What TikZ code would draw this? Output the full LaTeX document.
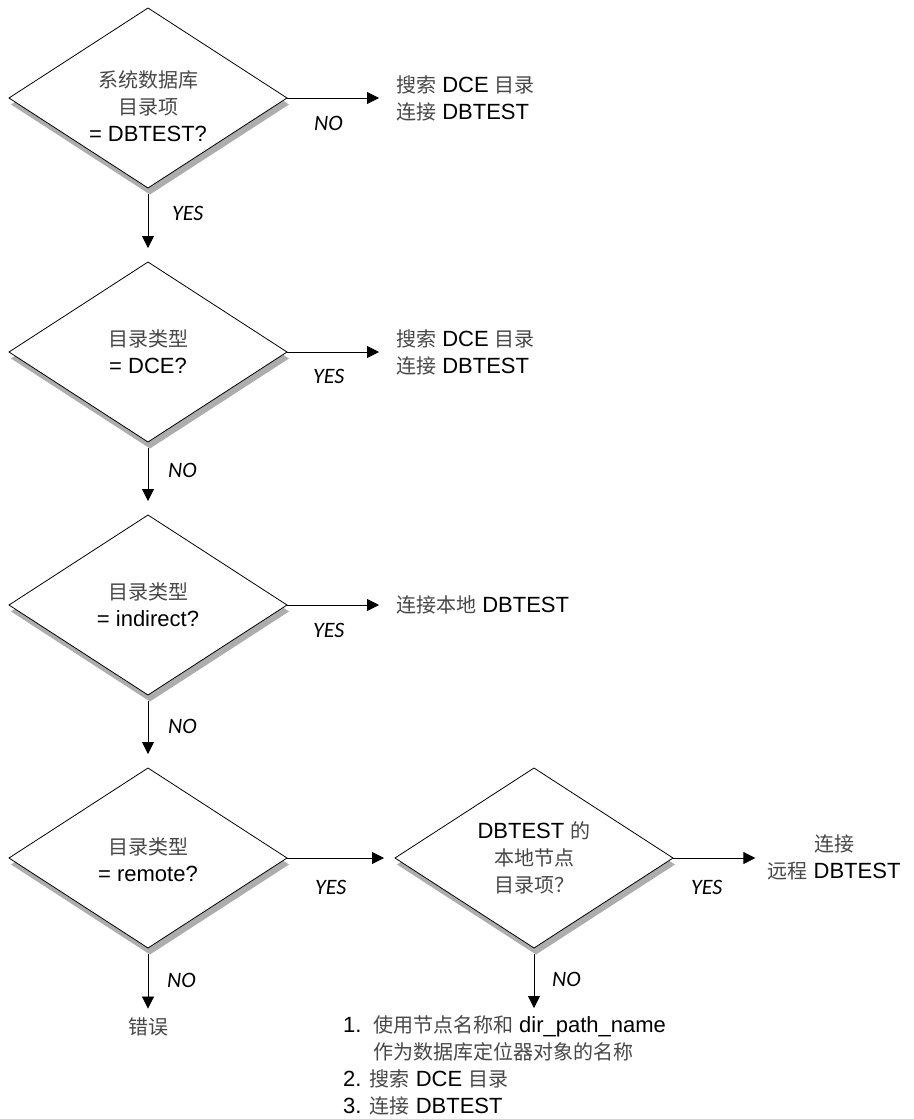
\documentclass[tikz,border=0pt]{standalone}
\usepackage{fontspec}
\setmainfont{Liberation Sans}[Scale=1.1]
\newfontfamily\cjkfont{Noto Sans CJK SC}
\newfontfamily\lblfont{Carlito}
\usetikzlibrary{shapes.geometric,arrows.meta}
\definecolor{zhgray}{gray}{0.28}
\definecolor{shadowgray}{gray}{0.68}
\newcommand\zhtxt[1]{{\cjkfont\color{zhgray}#1}}
\tikzset{
  dshape/.style={diamond, minimum width=278pt, minimum height=180pt, inner sep=0pt, outer sep=0pt},
  dec/.style={dshape, draw, line width=0.8pt, fill=white},
  shd/.style={dshape, fill=shadowgray},
  txt/.style={inner sep=0pt, font=\fontsize{20}{27}\selectfont, align=center},
  lbl/.style={inner sep=0pt, anchor=west, font=\lblfont\itshape\fontsize{22}{26}\selectfont},
  arr/.style={-{Triangle[length=12pt,width=12pt]}, line width=0.8pt},
}
\begin{document}
\begin{tikzpicture}[x=1pt,y=-1pt]
\useasboundingbox (0,0) rectangle (913,1119);
% shadows
\node[shd] (s1) at (150,104.5) {};
\node[shd] (s2) at (150,358.5) {};
\node[shd] (s3) at (150,611.5) {};
\node[shd] (s4) at (150,864.5) {};
\node[shd] (s5) at (536,864.5) {};
% decisions
\node[dec] (d1) at (148,98) {};
\node[dec] (d2) at (148,352) {};
\node[dec] (d3) at (148,605) {};
\node[dec] (d4) at (148,858) {};
\node[dec] (d5) at (534,858) {};
% decision texts
\node[txt] (t1) at (148,106) {\zhtxt{系统数据库}\\\zhtxt{目录项}\\= DBTEST?};
\node[txt] (t2) at (148,352) {\zhtxt{目录类型}\\= DCE?};
\node[txt] (t3) at (148,605) {\zhtxt{目录类型}\\= indirect?};
\node[txt] (t4) at (148,860) {\zhtxt{目录类型}\\= remote?};
\node[txt] (t5) at (534,858) {DBTEST \zhtxt{的}\\\zhtxt{本地节点}\\\zhtxt{目录项？}};
% actions
\node[txt, anchor=west, align=left] (a1) at (396,98) {\zhtxt{搜索} DCE \zhtxt{目录}\\\zhtxt{连接} DBTEST};
\node[txt, anchor=west, align=left] (a2) at (396,352) {\zhtxt{搜索} DCE \zhtxt{目录}\\\zhtxt{连接} DBTEST};
\node[txt, anchor=west] (a3) at (396,605) {\zhtxt{连接本地} DBTEST};
\node[txt] (a5) at (834,857) {\zhtxt{连接}\\\zhtxt{远程} DBTEST};
\node[txt] (err) at (148,1027) {\zhtxt{错误}};
\node[txt, anchor=north west, align=left] (lst) at (343,1015)
  {1.\hspace{11.5pt}\zhtxt{使用节点名称和} dir\_path\_name\\
   \hspace{30pt}\zhtxt{作为数据库定位器对象的名称}\\
   2. \zhtxt{搜索} DCE \zhtxt{目录}\\
   3. \zhtxt{连接} DBTEST};
% connectors
\draw[arr, shorten >=17pt] (d1.east) -- (d1.east -| a1.west);
\draw[arr, shorten >=17pt] (d2.east) -- (d2.east -| a2.west);
\draw[arr, shorten >=17pt] (d3.east) -- (d3.east -| a3.west);
\draw[arr, shorten >=11pt] (d4.east) -- (d5.west);
\draw[arr, shorten >=12pt] (d5.east) -- (d5.east -| a5.west);
\draw[arr, shorten <=6pt, shorten >=14pt] (d1.south) -- (d2.north);
\draw[arr, shorten <=6pt, shorten >=14pt] (d2.south) -- (d3.north);
\draw[arr, shorten <=6pt, shorten >=14pt] (d3.south) -- (d4.north);
\draw[arr, shorten <=6pt, shorten >=9pt] (d4.south) -- (err.north);
\draw[arr, shorten <=6pt, shorten >=7pt] (d5.south) -- (d5.south |- lst.north);
% labels
\node[lbl] (l1) at (314,123) {NO};
\node[lbl] (l2) at (313,376) {YES};
\node[lbl] (l3) at (313,630) {YES};
\node[lbl] (l4) at (315,887) {YES};
\node[lbl] (l5) at (691,887) {YES};
\node[lbl] (l6) at (172,213) {YES};
\node[lbl] (l7) at (168,470) {NO};
\node[lbl] (l8) at (168,726) {NO};
\node[lbl] (l9) at (167,980) {NO};
\node[lbl] (l10) at (552,979) {NO};
\end{tikzpicture}
\end{document}
